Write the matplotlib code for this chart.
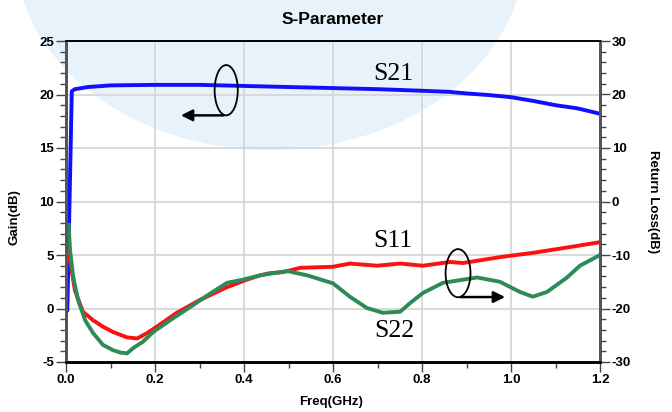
import matplotlib
matplotlib.use("Agg")
import matplotlib.pyplot as plt
from matplotlib.patches import Ellipse, FancyArrowPatch
from matplotlib.ticker import MultipleLocator

plt.rcParams['font.family'] = ['Liberation Sans', 'DejaVu Sans']
plt.rcParams['axes.unicode_minus'] = False

# ---- data ----
s21_freq = [0.0, 0.003, 0.013, 0.02, 0.05, 0.1, 0.2, 0.3, 0.4, 0.5, 0.6, 0.7,
            0.8, 0.86, 0.9, 0.95, 1.0, 1.05, 1.1, 1.15, 1.2]
s21_gain = [-0.2, -0.2, 20.3, 20.5, 20.7, 20.85, 20.9, 20.9, 20.8, 20.7, 20.6, 20.5,
            20.35, 20.25, 20.1, 19.95, 19.75, 19.4, 19.0, 18.7, 18.2]

s11_freq = [0.004, 0.009, 0.02, 0.038, 0.061, 0.083, 0.106, 0.137, 0.16, 0.182, 0.204,
            0.249, 0.301, 0.362, 0.407, 0.436, 0.458, 0.488, 0.526, 0.6, 0.638, 0.699,
            0.751, 0.802, 0.863, 0.892, 0.975, 1.049, 1.126, 1.2]
s11_rl = [-9.0, -11.0, -16.6, -20.6, -22.2, -23.4, -24.4, -25.4, -25.6, -24.6, -23.4,
          -20.8, -18.4, -16.0, -14.6, -13.8, -13.4, -13.2, -12.4, -12.2, -11.6, -12.0,
          -11.6, -12.0, -11.3, -11.5, -10.4, -9.6, -8.6, -7.6]

s22_freq = [0.006, 0.009, 0.016, 0.027, 0.043, 0.061, 0.083, 0.106, 0.121, 0.137, 0.151,
            0.173, 0.196, 0.234, 0.285, 0.324, 0.362, 0.398, 0.436, 0.497, 0.542, 0.6,
            0.638, 0.676, 0.712, 0.751, 0.773, 0.802, 0.847, 0.924, 0.975, 1.02, 1.049,
            1.081, 1.126, 1.155, 1.2]
s22_rl = [-4.4, -9.0, -14.0, -18.4, -22.2, -24.6, -26.8, -27.8, -28.2, -28.4, -27.4,
          -26.2, -24.4, -22.2, -19.4, -17.2, -15.2, -14.6, -13.8, -13.0, -13.8, -15.3,
          -17.8, -19.9, -20.8, -20.6, -19.0, -17.1, -15.2, -14.2, -15.0, -16.9, -17.8,
          -16.9, -14.2, -12.0, -10.0]

x_ticks = [0.0, 0.2, 0.4, 0.6, 0.8, 1.0, 1.2]
x_labels = ['0.0', '0.2', '0.4', '0.6', '0.8', '1.0', '1.2']
gain_ticks = [-5, 0, 5, 10, 15, 20, 25]
rl_ticks = [-30, -20, -10, 0, 10, 20, 30]

# ---- figure ----
fig = plt.figure(figsize=(6.72, 4.12), dpi=100, facecolor='white')
# watermark
fig.patches.append(Ellipse((270 / 672, 1 + 50 / 412), 2 * 255 / 672, 2 * 200 / 412,
                           transform=fig.transFigure, facecolor='#e7f2fa',
                           edgecolor='none', zorder=-10))

ax = fig.add_axes([66 / 672, 1 - 362 / 412, 534 / 672, 321 / 412])
ax.patch.set_visible(False)
ax2 = ax.twinx()

ax.set_xlim(0, 1.2)
ax.set_ylim(-5, 25)
ax2.set_ylim(-30, 30)

ax.set_xticks(x_ticks)
ax.set_xticklabels(x_labels)
ax.set_yticks(gain_ticks)
ax2.set_yticks(rl_ticks)
ax.xaxis.set_minor_locator(MultipleLocator(0.1))
ax.yaxis.set_minor_locator(MultipleLocator(1))
ax2.yaxis.set_minor_locator(MultipleLocator(2))

ax.grid(True, which='major', color='#d4d4d4', linewidth=1.2, zorder=0)
ax.set_axisbelow(True)

for a in (ax, ax2):
    a.tick_params(which='major', direction='out', length=7, width=1.0, color='#444444',
                  labelsize=9.5, pad=1.5)
    a.tick_params(which='minor', direction='out', length=4, width=1.0, color='#444444')
    for lab in a.get_xticklabels() + a.get_yticklabels():
        lab.set_fontweight('bold')
    a.spines['top'].set_color('black')
    a.spines['top'].set_linewidth(1.2)
    a.spines['bottom'].set_color('black')
    a.spines['bottom'].set_linewidth(1.8)
    a.spines['left'].set_color('#555555')
    a.spines['left'].set_linewidth(2.0)
    a.spines['right'].set_color('#555555')
    a.spines['right'].set_linewidth(2.0)

ax.plot(s21_freq, s21_gain, color='#1010ff', linewidth=2.8, solid_joinstyle='round')
ax2.plot(s11_freq, s11_rl, color='#ff1010', linewidth=2.8, solid_joinstyle='round')
ax2.plot(s22_freq, s22_rl, color='#2e8b57', linewidth=2.8, solid_joinstyle='round')

ax.set_xlabel('Freq(GHz)', fontsize=9.5, fontweight='bold')
ax.xaxis.set_label_coords(0.496, -0.105)
ax.set_ylabel('Gain(dB)', fontsize=9.5, fontweight='bold', va='center', ha='center')
ax.yaxis.set_label_coords(-0.097, 0.45)
ax2.set_ylabel('Return Loss(dB)', fontsize=9.5, fontweight='bold', rotation=270,
               va='center', ha='center')
ax2.yaxis.set_label_coords(1.099, 0.5)

fig.text(333 / 672, 1 - 19 / 412, 'S-Parameter', ha='center', va='center',
         fontsize=12.5, fontweight='bold')

# curve labels (left-axis coordinates)
serif = dict(family=['Liberation Serif', 'DejaVu Serif'], fontsize=18.5,
             ha='center', va='center', zorder=6)
ax2.text(0.735, 21.9, 'S21', transform=ax.transData, **serif)
ax2.text(0.735, 6.3, 'S11', transform=ax.transData, **serif)
ax2.text(0.737, -2.1, 'S22', transform=ax.transData, **serif)

# axis indicator ellipses with arrows
ax2.add_patch(Ellipse((0.36, 20.4), 0.052, 4.7, transform=ax.transData,
                      facecolor='none', edgecolor='black', linewidth=1.3, zorder=6))
ax2.add_patch(FancyArrowPatch((0.36, 18.05), (0.252, 18.05), transform=ax.transData,
                              arrowstyle='-|>', mutation_scale=17, color='black',
                              linewidth=1.8, zorder=6))
ax2.add_patch(Ellipse((0.881, 3.3), 0.056, 4.5, transform=ax.transData,
                      facecolor='none', edgecolor='black', linewidth=1.3, zorder=6))
ax2.add_patch(FancyArrowPatch((0.881, 1.07), (0.993, 1.07), transform=ax.transData,
                              arrowstyle='-|>', mutation_scale=17, color='black',
                              linewidth=1.8, zorder=6))

fig.savefig('out.png', dpi=100, facecolor='white')
